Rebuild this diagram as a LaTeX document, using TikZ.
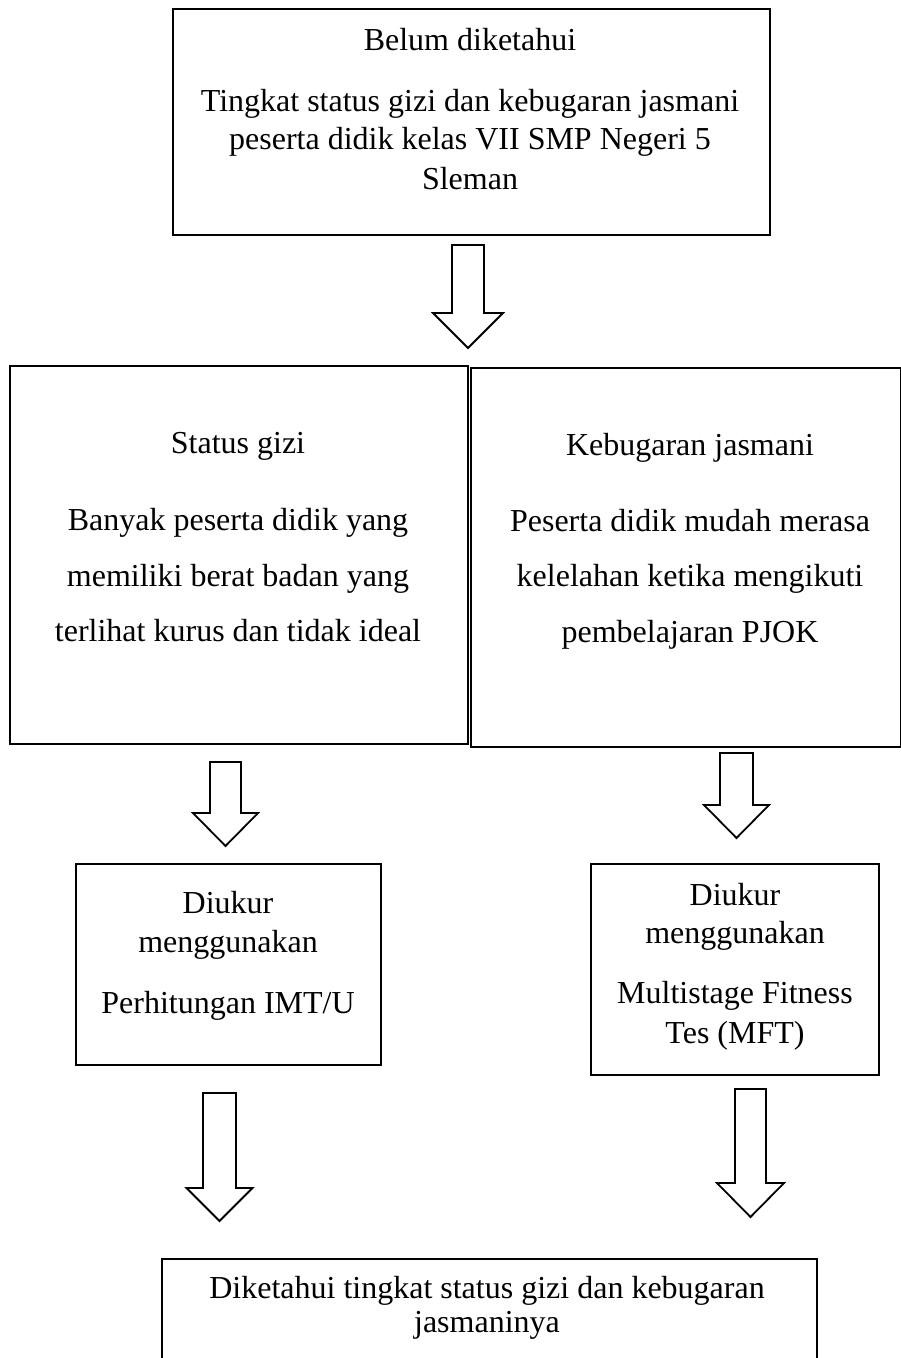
\documentclass[tikz,border=0pt]{standalone}
\usepackage{fontspec}
\setmainfont{Liberation Serif}
\begin{document}
\begin{tikzpicture}[x=1pt,y=-1pt,
  box/.style={draw=black,line width=2pt,fill=none,inner sep=0pt},
  txt/.style={anchor=base,inner sep=0pt,font=\fontsize{32}{36}\selectfont},
  barrow/.style={draw=black,line width=1.8pt,fill=white,line join=miter}]
\useasboundingbox (0,0) rectangle (901,1358);
% boxes
\node[box,anchor=north west,minimum width=597,minimum height=226] (top) at (172,8) {};
\node[box,anchor=north west,minimum width=458,minimum height=378] (left) at (9,365) {};
\node[box,anchor=north west,minimum width=430,minimum height=379] (right) at (470,367) {};
\node[box,anchor=north west,minimum width=305,minimum height=201] (ml) at (75,863) {};
\node[box,anchor=north west,minimum width=288,minimum height=211] (mr) at (590,863) {};
\node[box,anchor=north west,minimum width=655,minimum height=140] (bot) at (161,1258) {};
% texts
\node[txt] (t1) at (470,50) {Belum diketahui};
\node[txt] (t2) at (470,111) {Tingkat status gizi dan kebugaran jasmani};
\node[txt] (t3) at (470,149) {peserta didik kelas VII SMP Negeri 5};
\node[txt] (t4) at (470,189) {Sleman};
\node[txt] (l1) at (238,453) {Status gizi};
\node[txt] (l2) at (238,530) {Banyak peserta didik yang};
\node[txt] (l3) at (238,586) {memiliki berat badan yang};
\node[txt] (l4) at (238,641) {terlihat kurus dan tidak ideal};
\node[txt] (r1) at (690,455) {Kebugaran jasmani};
\node[txt] (r2) at (690,531) {Peserta didik mudah merasa};
\node[txt] (r3) at (690,586) {kelelahan ketika mengikuti};
\node[txt] (r4) at (690,642) {pembelajaran PJOK};
\node[txt] (a1) at (228,913) {Diukur};
\node[txt] (a2) at (228,952) {menggunakan};
\node[txt] (a3) at (228,1013) {Perhitungan IMT/U};
\node[txt] (b1) at (735,905) {Diukur};
\node[txt] (b2) at (735,943) {menggunakan};
\node[txt] (b3) at (735,1003) {Multistage Fitness};
\node[txt] (b4) at (735,1043) {Tes (MFT)};
\node[txt] (c1) at (487,1298) {Diketahui tingkat status gizi dan kebugaran};
\node[txt] (c2) at (487,1332) {jasmaninya};
% block arrows
\newcommand\blockarr[6]{%
  \draw[barrow] (#1-#3,#2) -- (#1+#3,#2) -- (#1+#3,#5) -- (#1+#4,#5) -- (#1,#6)
    -- (#1-#4,#5) -- (#1-#3,#5) -- cycle;}
\blockarr{468}{245}{16}{35}{313}{348}
\blockarr{225.5}{762}{15.5}{32.5}{813}{846}
\blockarr{736.5}{753}{16.5}{32.5}{805}{838}
\blockarr{219.5}{1093}{16.5}{33}{1188}{1221}
\blockarr{750.5}{1089}{15.5}{33.5}{1183}{1217}
\end{tikzpicture}
\end{document}
